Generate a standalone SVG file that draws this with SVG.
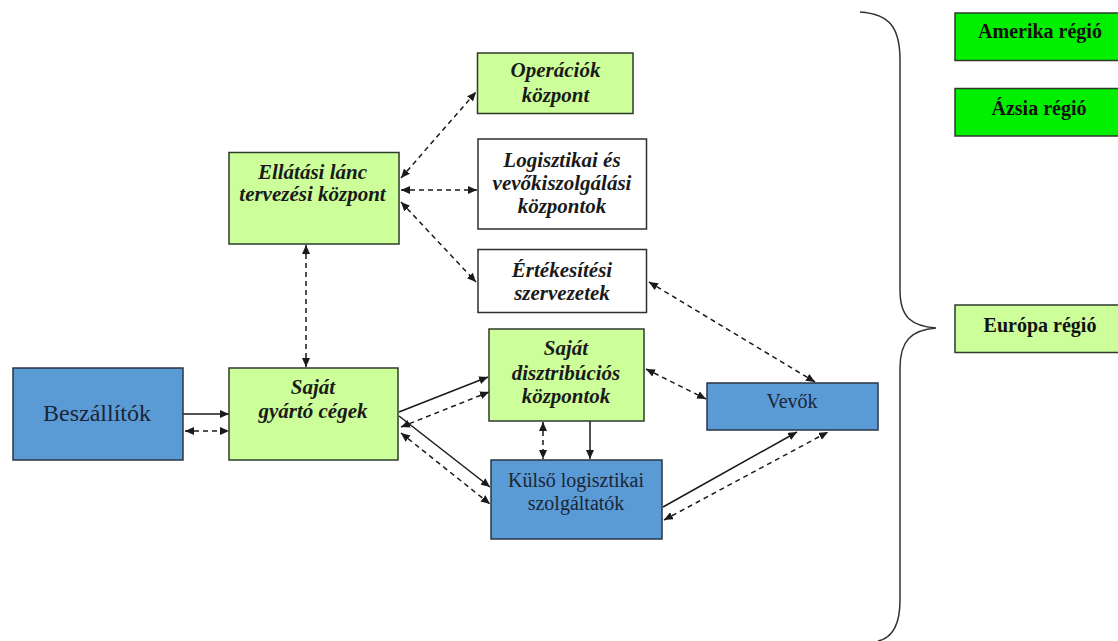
<svg xmlns="http://www.w3.org/2000/svg" width="1118" height="641" viewBox="0 0 1118 641">
  <style>
    .blue { fill: #5b9bd5; stroke: #2b3545; stroke-width: 1.5; }
    .lgreen { fill: #ccff99; stroke: #2e3a2a; stroke-width: 1.5; }
    .white { fill: #ffffff; stroke: #2e2e2e; stroke-width: 1.5; }
    .bgreen { fill: #00f000; stroke: #2e3a2a; stroke-width: 1.5; }
    text { font-family: 'Liberation Serif', 'Times New Roman', 'DejaVu Serif', serif; text-anchor: middle; }
    .lbl { font-size: 21px; font-weight: bold; font-style: italic; fill: #1a1a1a; }
    .plain { font-size: 20px; fill: #1a2535; }
    .big { font-size: 24px; }
    .reg { font-size: 20px; font-weight: bold; fill: #111; }
    .solid { fill: none; stroke: #1a1a1a; stroke-width: 1.5; }
    .dash { fill: none; stroke: #1a1a1a; stroke-width: 1.5; stroke-dasharray: 5 4; }
  </style>
  <defs>
    <marker id="ah" markerUnits="userSpaceOnUse" markerWidth="10" markerHeight="8" refX="9" refY="4" orient="auto-start-reverse">
      <path d="M0,0 L9,4 L0,8 Z" fill="#1a1a1a"/>
    </marker>
  </defs>

  <rect width="1118" height="641" fill="#ffffff"/>

  <!-- connectors -->
  <g id="connectors">
    <!-- suppliers to manufacturing -->
    <line class="solid" x1="183" y1="414" x2="229" y2="414" marker-end="url(#ah)"/>
    <line class="dash" x1="185" y1="431" x2="229" y2="431" marker-start="url(#ah)" marker-end="url(#ah)"/>
    <!-- planning centre links -->
    <line class="dash" x1="306" y1="245" x2="306" y2="367" marker-start="url(#ah)" marker-end="url(#ah)"/>
    <line class="dash" x1="401" y1="178" x2="476" y2="92" marker-start="url(#ah)" marker-end="url(#ah)"/>
    <line class="dash" x1="401" y1="190" x2="477" y2="190" marker-start="url(#ah)" marker-end="url(#ah)"/>
    <line class="dash" x1="401" y1="202" x2="476" y2="282" marker-start="url(#ah)" marker-end="url(#ah)"/>
    <!-- sales organisations to customers -->
    <line class="dash" x1="649" y1="282" x2="815" y2="382" marker-start="url(#ah)" marker-end="url(#ah)"/>
    <!-- manufacturing to distribution centres -->
    <line class="solid" x1="399" y1="412" x2="488" y2="377" marker-end="url(#ah)"/>
    <line class="dash" x1="401" y1="427" x2="489" y2="392" marker-start="url(#ah)" marker-end="url(#ah)"/>
    <!-- manufacturing to external logistics -->
    <line class="solid" x1="399" y1="416" x2="490" y2="487" marker-end="url(#ah)"/>
    <line class="dash" x1="401" y1="433" x2="490" y2="504" marker-start="url(#ah)" marker-end="url(#ah)"/>
    <!-- distribution centres to external logistics -->
    <line class="dash" x1="543" y1="422" x2="543" y2="459" marker-start="url(#ah)" marker-end="url(#ah)"/>
    <line class="solid" x1="590" y1="421" x2="590" y2="459" marker-end="url(#ah)"/>
    <!-- distribution centres to customers -->
    <line class="dash" x1="646" y1="369" x2="706" y2="399" marker-start="url(#ah)" marker-end="url(#ah)"/>
    <!-- external logistics to customers -->
    <line class="solid" x1="663" y1="507" x2="797" y2="432" marker-end="url(#ah)"/>
    <line class="dash" x1="664" y1="520" x2="828" y2="432" marker-start="url(#ah)" marker-end="url(#ah)"/>
  </g>

  <!-- nodes -->
  <g id="beszallitok">
    <rect class="blue" x="13" y="368" width="170" height="92"/>
    <text class="plain big" x="97" y="421">Beszállítók</text>
  </g>

  <g id="gyarto">
    <rect class="lgreen" x="229" y="368" width="169" height="92"/>
    <text class="lbl" x="313" y="394">Saját</text>
    <text class="lbl" x="313" y="418">gyártó cégek</text>
  </g>

  <g id="tervezes">
    <rect class="lgreen" x="229" y="152.5" width="170" height="91.5"/>
    <text class="lbl" x="312.5" y="179">Ellátási lánc</text>
    <text class="lbl" x="312.5" y="201">tervezési központ</text>
  </g>

  <g id="operaciok">
    <rect class="lgreen" x="477.5" y="53" width="155.5" height="60.5"/>
    <text class="lbl" x="555.5" y="77">Operációk</text>
    <text class="lbl" x="555.5" y="102">központ</text>
  </g>

  <g id="logisztikai">
    <rect class="white" x="478" y="139" width="168.5" height="90"/>
    <text class="lbl" x="562" y="167">Logisztikai és</text>
    <text class="lbl" x="562" y="190">vevőkiszolgálási</text>
    <text class="lbl" x="562" y="213">központok</text>
  </g>

  <g id="ertekesitesi">
    <rect class="white" x="478" y="249.5" width="168.5" height="63"/>
    <text class="lbl" x="562" y="277">Értékesítési</text>
    <text class="lbl" x="562" y="300">szervezetek</text>
  </g>

  <g id="disztribucios">
    <rect class="lgreen" x="489" y="329" width="155" height="92"/>
    <text class="lbl" x="566" y="355">Saját</text>
    <text class="lbl" x="566" y="380">disztribúciós</text>
    <text class="lbl" x="566" y="403">központok</text>
  </g>

  <g id="vevok">
    <rect class="blue" x="707" y="383" width="171" height="47"/>
    <text class="plain" x="792" y="408">Vevők</text>
  </g>

  <g id="kulso">
    <rect class="blue" x="491" y="460" width="171" height="79"/>
    <text class="plain" x="576" y="487">Külső logisztikai</text>
    <text class="plain" x="576" y="510">szolgáltatók</text>
  </g>

  <!-- regions -->
  <g id="brace">
    <path d="M860,12 C890,14 900,28 900,60 L900,290 C900,318 912,326 936,328 C912,330 900,340 900,368 L900,600 C900,626 892,638 878,641" fill="none" stroke="#333" stroke-width="1.5"/>
  </g>

  <g id="amerika">
    <rect class="bgreen" x="955" y="13" width="175" height="47.5"/>
    <text class="reg" x="1040" y="38">Amerika régió</text>
  </g>

  <g id="azsia">
    <rect class="bgreen" x="955" y="88.5" width="175" height="47.5"/>
    <text class="reg" x="1039" y="115">Ázsia régió</text>
  </g>

  <g id="europa">
    <rect class="lgreen" x="955" y="305" width="175" height="47.5"/>
    <text class="reg" x="1040" y="332">Európa régió</text>
  </g>
</svg>
